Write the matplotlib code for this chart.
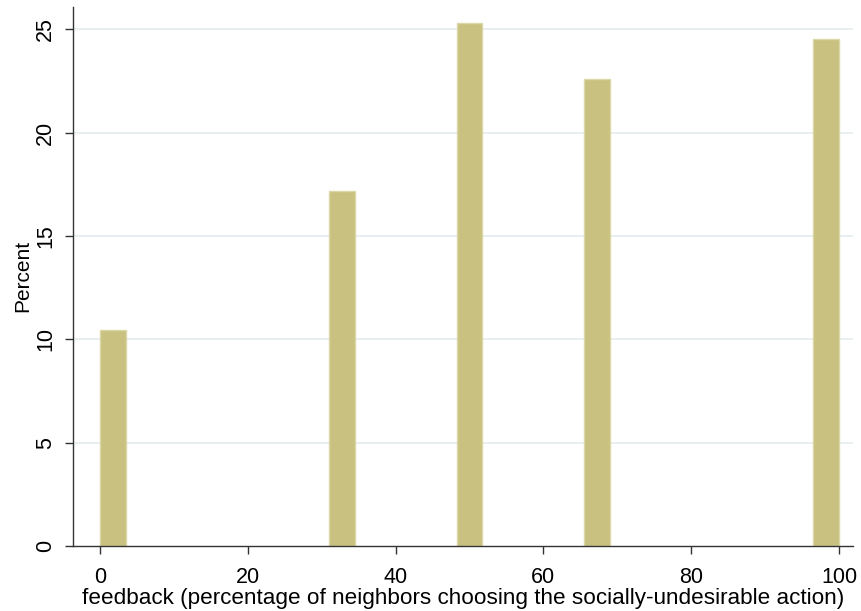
import numpy as np
import matplotlib.pyplot as plt

plt.rcParams['font.family'] = ['Liberation Sans', 'DejaVu Sans']

# feedback values and the share of observations at each (percent)
feedback = [0, 100 / 3, 50, 200 / 3, 100]
percent = [10.45, 17.18, 25.31, 22.57, 24.54]

# histogram bins: 29 bins of equal width over 0..100
nbins = 29
edges = np.linspace(0, 100, nbins + 1)
width = edges[1] - edges[0]
bin_idx = [min(int(v // width), nbins - 1) for v in feedback]
lefts = edges[bin_idx]

yticks = [0, 5, 10, 15, 20, 25]
xticks = [0, 20, 40, 60, 80, 100]

fig = plt.figure(figsize=(8.61, 6.11), dpi=100)
ax = fig.add_axes([0.0845, 0.1064, 0.9062, 0.8826])

for y in yticks[1:]:
    ax.axhline(y, color='#e8eff1', lw=1.4, zorder=0)

ax.bar(lefts, percent, width=width, align='edge',
       color='#c9c17f', edgecolor='#dcd7a6', linewidth=1.0, zorder=2)

ax.set_xlim(-3.7, 101.9)
ax.set_ylim(0, 26.09)
ax.set_xticks(xticks)
ax.set_yticks(yticks)
ax.set_yticklabels([str(t) for t in yticks], rotation=90, va='center')

for side in ['top', 'right']:
    ax.spines[side].set_visible(False)
for side in ['left', 'bottom']:
    ax.spines[side].set_color('#333333')
    ax.spines[side].set_linewidth(1.0)

ax.tick_params(axis='both', direction='out', length=6, width=1,
               color='#333333', labelsize=15.5, pad=6)
ax.tick_params(axis='x', pad=9)

ax.set_xlabel('feedback (percentage of neighbors choosing the socially-undesirable action)',
              fontsize=16.2, labelpad=0)
ax.set_ylabel('Percent', fontsize=15, labelpad=2)

fig.savefig('out.png', dpi=100)
